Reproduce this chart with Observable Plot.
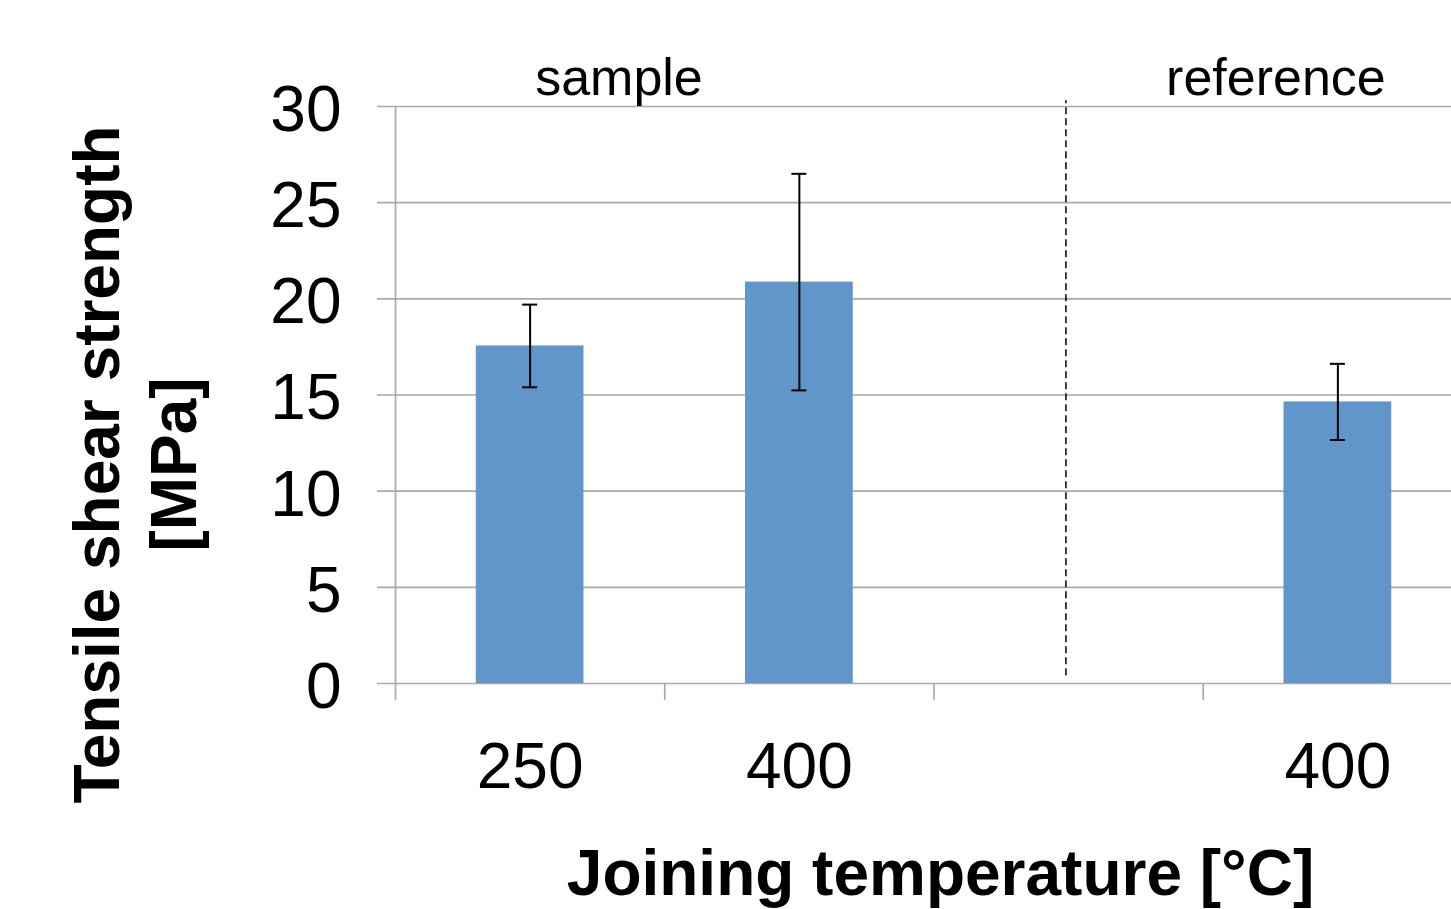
<!DOCTYPE html>
<html><head><meta charset="utf-8">
<script src="https://cdn.jsdelivr.net/npm/d3@7"></script>
<script src="https://cdn.jsdelivr.net/npm/@observablehq/plot@0.6"></script>
<style>html,body{margin:0;padding:0;background:#fff;overflow:hidden} #chart svg{display:block}</style>
</head><body><div id="chart"></div>
<script>
// ---- data ----
const slots = [0, 1, 2, 3];
const categories = ["250", "400", "", "400"];
const groups = ["sample", "sample", "", "reference"];
const means = [17.55, 20.87, null, 14.64];
const errors = [2.15, 5.63, null, 1.98];
const yTicks = [0, 5, 10, 15, 20, 25, 30];
const groupLabels = ["sample", "reference"];
const groupLabelPos = [0.83, 3.27];
const dividerPos = 2.49;
const dividerExtent = [0.4, 30.3];
const xTitle = "Joining temperature [°C]";
const yTitle = "Tensile shear strength\n[MPa]";

const rows = slots.map((s, i) => ({slot: s, label: categories[i], group: groups[i], mean: means[i], err: errors[i]}))
  .filter(d => d.mean != null);

// ---- layout ----
const W = 1451, H = 909, L = 395, T = 106, B = 226;
const step = 269.25;
const barFrac = 0.4;
const grid = "#a9a9a9";

const chart = Plot.plot({
  width: W, height: H,
  marginLeft: L, marginTop: T, marginBottom: B, marginRight: 0,
  style: {fontFamily: "'Liberation Sans', Arial, sans-serif", background: "#fff", color: "#000"},
  x: {type: "linear", domain: [0, 4], range: [L, L + 4 * step], axis: null},
  y: {domain: [0, 30], range: [H - B, T], axis: null},
  marks: [
    Plot.ruleY(yTicks, {stroke: grid, strokeWidth: 1.7, insetLeft: -18}),
    Plot.ruleX([0], {y1: 0, y2: 30, stroke: grid, strokeWidth: 1.7}),
    Plot.ruleX(slots, {y1: 0, y2: 0, insetBottom: -17, stroke: grid, strokeWidth: 1.7}),
    Plot.rectY(rows, {x1: d => d.slot + (1 - barFrac) / 2, x2: d => d.slot + (1 + barFrac) / 2, y1: 0, y2: "mean", fill: "#6096c9"}),
    Plot.ruleX(rows, {x: d => d.slot + 0.5, y1: d => d.mean - d.err, y2: d => d.mean + d.err, stroke: "#000", strokeWidth: 2}),
    Plot.ruleY(rows, {y: d => d.mean + d.err, x1: d => d.slot + 0.5, x2: d => d.slot + 0.5, insetLeft: -7.5, insetRight: -7.5, stroke: "#000", strokeWidth: 2}),
    Plot.ruleY(rows, {y: d => d.mean - d.err, x1: d => d.slot + 0.5, x2: d => d.slot + 0.5, insetLeft: -7.5, insetRight: -7.5, stroke: "#000", strokeWidth: 2}),
    Plot.ruleX([dividerPos], {y1: dividerExtent[0], y2: dividerExtent[1], stroke: "#000", strokeWidth: 1.5, strokeDasharray: "7,4"}),
    Plot.text(yTicks, {y: d => d, text: d => String(d), frameAnchor: "left", textAnchor: "end", dx: -54, dy: 4, fontSize: 64, fill: "#000"}),
    Plot.text(rows, {x: d => d.slot + 0.5, y: 0, text: "label", dy: 104, lineAnchor: "bottom", fontSize: 64, fill: "#000"}),
    Plot.text(groupLabels, {x: (d, i) => groupLabelPos[i], text: d => d, frameAnchor: "top", dy: -12, lineAnchor: "bottom", fontSize: 52, fill: "#000"}),
    Plot.text([xTitle], {text: d => d, frameAnchor: "bottom", dx: 17, dy: 211, lineAnchor: "bottom", fontWeight: "bold", fontSize: 64, fill: "#000"}),
    Plot.text([yTitle], {text: d => d, frameAnchor: "left", textAnchor: "middle", dx: -262.5, dy: 69.5, rotate: -90, lineHeight: 1.2, fontWeight: "bold", fontSize: 64, fill: "#000"})
  ]
});
document.getElementById("chart").appendChild(chart);
</script>
</body></html>
